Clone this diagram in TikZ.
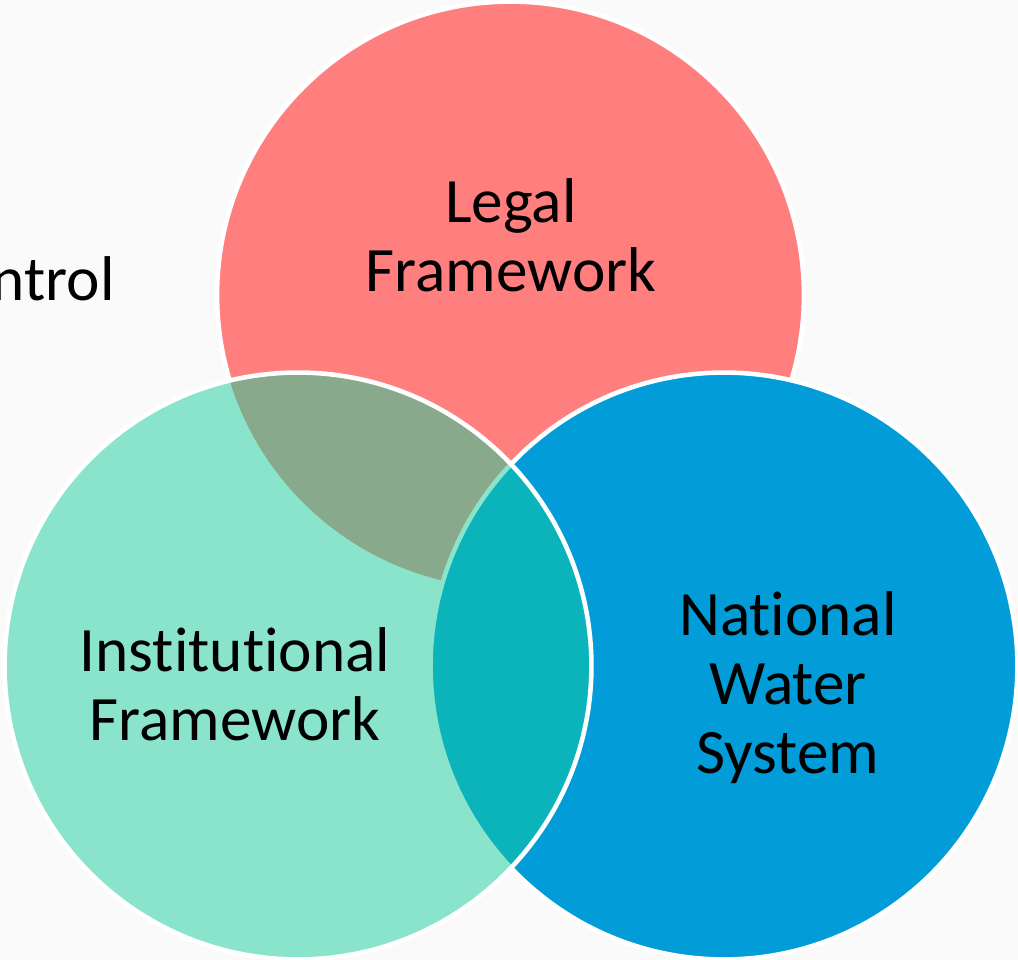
\documentclass[tikz,border=0pt]{standalone}
\usepackage{fontspec}
\setmainfont{Carlito}[Ligatures={NoCommon}]
\definecolor{bgcol}{HTML}{FAFAFA}
\definecolor{legalred}{HTML}{FF7F7F}
\definecolor{instgreen}{HTML}{8AE4CB}
\definecolor{waterblue}{HTML}{029DD8}
\definecolor{lensgray}{HTML}{88A98B}
\definecolor{lensteal}{HTML}{0BB4BA}
\tikzset{
  ring/.style={draw=white, line width=2.6pt},
  label/.style={align=center, text=black, inner sep=0pt, font=\fontsize{36}{39.2}\selectfont}
}
\begin{document}
\begin{tikzpicture}[x=0.02cm,y=-0.02cm]
\fill[bgcol] (0,0) rectangle (1018,960);
\useasboundingbox (0,0) rectangle (1018,960);
\coordinate (cL) at (510.5,295);
\coordinate (cI) at (298,666);
\coordinate (cN) at (724,666);
\def\R{5.87cm}
% base circles
\draw[ring, fill=legalred] (cL) circle[radius=\R];
\draw[ring, fill=waterblue] (cN) circle[radius=\R];
\fill[instgreen] (cI) circle[radius=\R];
% overlap lenses
\begin{scope}
  \clip (cI) circle[radius=\R];
  \fill[lensgray] (cL) circle[radius=\R];
  \filldraw[fill=lensteal, draw=instgreen, line width=2.6pt] (cN) circle[radius=\R];
\end{scope}
\draw[ring] (cI) circle[radius=\R];
% labels
\node[label] (legal) at (511,235) {Legal\\Framework};
\node[label] (inst) at (235,684.5) {Institutional\\Framework};
\node[label] (water) at (788,688) {National\\Water\\System};
\node[label, anchor=base east] (ctrl) at (115,300) {ntrol};
\end{tikzpicture}
\end{document}
